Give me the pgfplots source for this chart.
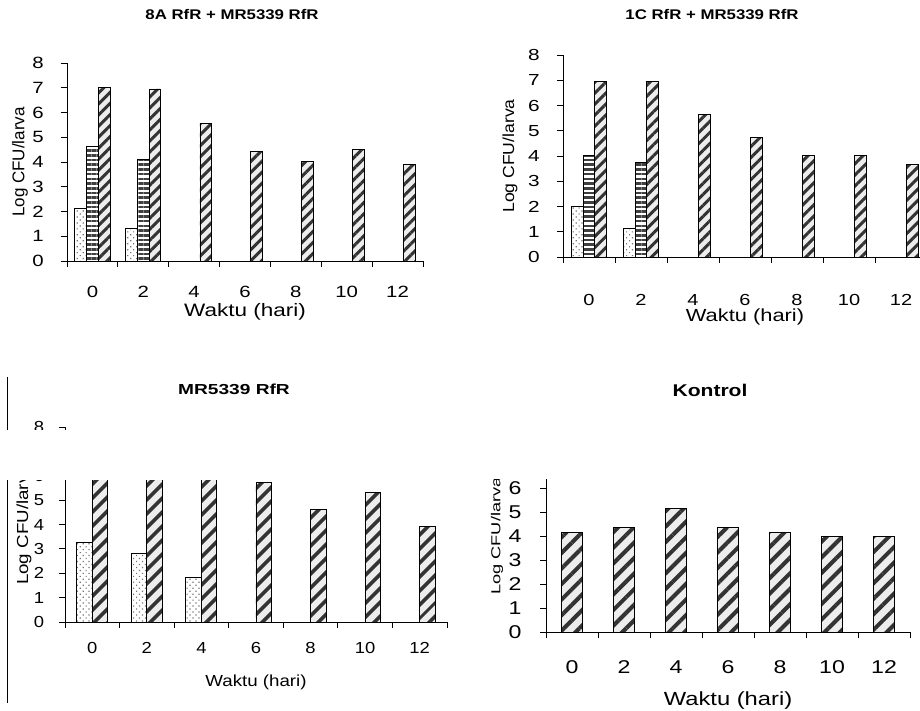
\documentclass[border=0pt]{standalone}
\usepackage{fontspec}
\setmainfont{Liberation Sans}
\usepackage{graphicx}
\usepackage{pgfplots}
\pgfplotsset{compat=1.18}
\usetikzlibrary{patterns.meta}

\newcommand{\sx}[2][1.25]{\scalebox{#1}[1]{#2}}
\newcommand{\fs}[1]{\fontsize{#1}{#1}\selectfont}

\pgfplotsset{
  panel/.style={
    scale only axis, anchor=south west,
    axis x line=bottom, axis y line=left,
    axis line style={-, line width=0.8pt, black},
    xmin=-0.5, xmax=6.5, ymin=0,
    xtick={-0.5,0.5,1.5,2.5,3.5,4.5,5.5,6.5}, xticklabels={},
    extra x ticks={0,1,2,3,4,5,6},
    extra x tick style={major tick length=0pt},
    tick align=outside, major tick length=6pt,
    tick style={black, line width=0.8pt},
    ybar=0pt,
    xticklabel style={anchor=center},
    yticklabel style={anchor=center},
    xlabel style={at={(axis description cs:0.5,0)}, anchor=center},
    ylabel style={anchor=center},
    clip=false,
  },
  dotsbar/.style={draw=black, line width=0.9pt, preaction={fill=white},
    pattern={Dots[distance=4.2pt, radius=0.85pt, angle=45]}, pattern color=black!55},
  stripebar/.style={draw=black, line width=0.9pt, preaction={fill=white},
    pattern={Lines[angle=0, distance=4.7pt, line width=2.6pt]}, pattern color=black!75},
  hatchbar/.style 2 args={draw=black, line width=0.9pt, preaction={fill=black!7},
    pattern={Lines[angle=45, distance=#1, line width=#2]}, pattern color=black!80},
}

\begin{document}
\begin{tikzpicture}[x=1pt,y=1pt]
\path[use as bounding box] (0pt,0pt) rectangle (920pt,710pt);
\clip (0pt,0pt) rectangle (920pt,710pt);

% ---------- Panel A: 8A RfR + MR5339 RfR ----------
\begin{axis}[panel, at={(67pt,449pt)}, width=356pt, height=198pt,
  ymax=8, ytick={0,1,2,3,4,5,6,7,8},
  yticklabels={\sx{0},\sx{1},\sx{2},\sx{3},\sx{4},\sx{5},\sx{6},\sx{7},\sx{8}},
  extra x tick labels={\sx{0},\sx{2},\sx{4},\sx{6},\sx{8},\sx{10},\sx{12}},
  tick label style={font=\fs{16.3}},
  xticklabel style={yshift=-31pt}, yticklabel style={xshift=-23pt},
  bar width=11.7pt,
  xlabel={\fs{18}\sx{Waktu (hari)}}, xlabel style={yshift=-51pt},
  ylabel={\fs{17}Log CFU/larva},
  ylabel style={at={([xshift=-47pt]axis description cs:0,0.5)}}]
\addplot[dotsbar] coordinates {(0,2.13) (1,1.33)};
\addplot[stripebar] coordinates {(0,4.64) (1,4.11)};
\addplot[hatchbar={7.8pt}{3pt}] coordinates {(0,7.02) (1,6.95) (2,5.56) (3,4.44) (4,4.03) (5,4.50) (6,3.91)};
\end{axis}

% ---------- Panel B: 1C RfR + MR5339 RfR ----------
\begin{axis}[panel, at={(563pt,453pt)}, width=364pt, height=202pt,
  ymax=8, ytick={0,1,2,3,4,5,6,7,8},
  yticklabels={\sx[1.3]{0},\sx[1.3]{1},\sx[1.3]{2},\sx[1.3]{3},\sx[1.3]{4},\sx[1.3]{5},\sx[1.3]{6},\sx[1.3]{7},\sx[1.3]{8}},
  extra x tick labels={\sx{0},\sx{2},\sx{4},\sx{6},\sx{8},\sx{10},\sx{12}},
  tick label style={font=\fs{16}},
  xticklabel style={yshift=-43pt}, yticklabel style={xshift=-23pt},
  bar width=11.7pt,
  xlabel={\fs{17.5}\sx{Waktu (hari)}}, xlabel style={yshift=-60pt},
  ylabel={\fs{16}\scalebox{1.1}[1]{Log CFU/larva}},
  ylabel style={at={([xshift=-53pt]axis description cs:0,0.5)}}]
\addplot[dotsbar] coordinates {(0,2.00) (1,1.12)};
\addplot[stripebar] coordinates {(0,4.02) (1,3.75)};
\addplot[hatchbar={7.8pt}{3pt}] coordinates {(0,6.96) (1,6.96) (2,5.64) (3,4.73) (4,4.01) (5,4.01) (6,3.68)};
\end{axis}

% ---------- Panel C: MR5339 RfR ----------
\begin{axis}[panel, at={(65pt,88pt)}, width=382pt, height=195pt,
  ymax=8, ytick={0,1,2,3,4,5,6,7,8},
  yticklabels={\sx[1.15]{0},\sx[1.15]{1},\sx[1.15]{2},\sx[1.15]{3},\sx[1.15]{4},\sx[1.15]{5},\sx[1.15]{6},\sx[1.15]{7},\sx[1.15]{8}},
  extra x tick labels={\sx[1.15]{0},\sx[1.15]{2},\sx[1.15]{4},\sx[1.15]{6},\sx[1.15]{8},\sx[1.15]{10},\sx[1.15]{12}},
  tick label style={font=\fs{16}},
  xticklabel style={yshift=-26pt}, yticklabel style={xshift=-20pt},
  bar width=15.5pt,
  xlabel={\fs{16}\sx[1.17]{Waktu (hari)}}, xlabel style={yshift=-60pt},
  ylabel={\fs{16}\scalebox{1.17}[1]{Log CFU/larva}},
  ylabel style={at={([xshift=-41pt]axis description cs:0,0.5)}}]
\addplot[dotsbar] coordinates {(0,3.27) (1,2.80) (2,1.81)};
\addplot[hatchbar={10.5pt}{4pt}] coordinates {(0,7.00) (1,7.00) (2,6.80) (3,5.73) (4,4.60) (5,5.30) (6,3.90)};
\end{axis}

% ---------- Panel D: Kontrol ----------
\begin{axis}[panel, at={(546pt,78pt)}, width=364pt, height=192pt,
  ymax=8, ytick={0,1,2,3,4,5,6},
  yticklabels={\sx{0},\sx{1},\sx{2},\sx{3},\sx{4},\sx{5},\sx{6}},
  extra x tick labels={\sx{0},\sx{2},\sx{4},\sx{6},\sx{8},\sx{10},\sx{12}},
  tick label style={font=\fs{18.5}},
  xticklabel style={yshift=-35pt}, yticklabel style={xshift=-25pt},
  bar width=21.7pt,
  xlabel={\fs{19}\sx{Waktu (hari)}}, xlabel style={yshift=-69pt},
  ylabel={\fs{13}\scalebox{1.4}[1]{Log CFU/larva}},
  ylabel style={at={([xshift=-49pt]axis description cs:0,0.5)}}]
\addplot[hatchbar={11pt}{4pt}] coordinates {(0,4.14) (1,4.35) (2,5.13) (3,4.35) (4,4.14) (5,4.00) (6,4.00)};
\end{axis}

% page artefacts of the scanned source
\draw[line width=0.8pt] (7pt,333pt) -- (7pt,7pt);
\fill[white] (0pt,230.5pt) rectangle (460pt,280pt);
\fill[white] (460pt,231.5pt) rectangle (920pt,310pt);

% titles
\node[font=\bfseries\fs{14}] at (232pt,695pt) {\sx[1.2]{8A RfR + MR5339 RfR}};
\node[font=\bfseries\fs{14}] at (712pt,695pt) {\sx[1.2]{1C RfR + MR5339 RfR}};
\node[font=\bfseries\fs{14.5}] at (234pt,321pt) {\sx[1.32]{MR5339 RfR}};
\node[font=\bfseries\fs{17}] at (710pt,320pt) {\sx[1.24]{Kontrol}};
\end{tikzpicture}
\end{document}
